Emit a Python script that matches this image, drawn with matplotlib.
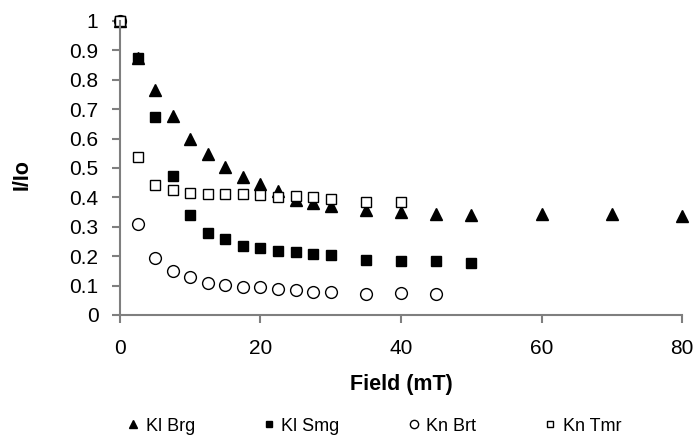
import matplotlib.pyplot as plt

plt.rcParams['font.family'] = ['Liberation Sans', 'DejaVu Sans']

# field strength (mT) and normalised intensity I/Io for each sample
brg_field = [0, 2.5, 5, 7.5, 10, 12.5, 15, 17.5, 20, 22.5, 25, 27.5, 30, 35, 40, 45, 50, 60, 70, 80]
brg_ratio = [1.0, 0.875, 0.765, 0.677, 0.600, 0.549, 0.502, 0.468, 0.444, 0.421, 0.392,
             0.380, 0.369, 0.357, 0.350, 0.343, 0.340, 0.342, 0.342, 0.337]

smg_field = [0, 2.5, 5, 7.5, 10, 12.5, 15, 17.5, 20, 22.5, 25, 27.5, 30, 35, 40, 45, 50]
smg_ratio = [1.0, 0.873, 0.673, 0.472, 0.341, 0.280, 0.258, 0.235, 0.227, 0.218, 0.213,
             0.209, 0.204, 0.186, 0.182, 0.182, 0.176]

brt_field = [0, 2.5, 5, 7.5, 10, 12.5, 15, 17.5, 20, 22.5, 25, 27.5, 30, 35, 40, 45]
brt_ratio = [1.0, 0.310, 0.195, 0.149, 0.129, 0.110, 0.102, 0.094, 0.094, 0.090, 0.085,
             0.078, 0.078, 0.071, 0.076, 0.071]

tmr_field = [0, 2.5, 5, 7.5, 10, 12.5, 15, 17.5, 20, 22.5, 25, 27.5, 30, 35, 40]
tmr_ratio = [1.0, 0.536, 0.441, 0.424, 0.415, 0.413, 0.413, 0.413, 0.407, 0.402, 0.404,
             0.401, 0.396, 0.383, 0.383]

x_ticks = [0, 20, 40, 60, 80]
y_ticks = [0, 0.1, 0.2, 0.3, 0.4, 0.5, 0.6, 0.7, 0.8, 0.9, 1]
y_labels = ['0', '0.1', '0.2', '0.3', '0.4', '0.5', '0.6', '0.7', '0.8', '0.9', '1']

fig = plt.figure(figsize=(6.98, 4.37), dpi=100)
ax = fig.add_axes([0.1719, 0.2792, 0.8052, 0.6728])

ax.plot(brg_field, brg_ratio, linestyle='none', marker='^', ms=9, color='black',
        clip_on=False, label='Kl Brg')
ax.plot(smg_field, smg_ratio, linestyle='none', marker='s', ms=6.5, color='black',
        clip_on=False, label='Kl Smg')
ax.plot(brt_field, brt_ratio, linestyle='none', marker='o', ms=8.5, mfc='white',
        mec='black', mew=1.0, clip_on=False, label='Kn Brt')
ax.plot(tmr_field, tmr_ratio, linestyle='none', marker='s', ms=6.5, mfc='white',
        mec='black', mew=1.0, clip_on=False, label='Kn Tmr')

ax.set_xlim(0, 80)
ax.set_ylim(0, 1)
ax.set_xticks(x_ticks)
ax.set_yticks(y_ticks)
ax.set_yticklabels(y_labels)

for side in ['top', 'right']:
    ax.spines[side].set_visible(False)
for side in ['left', 'bottom']:
    ax.spines[side].set_color('#7f7f7f')
    ax.spines[side].set_linewidth(1.5)
ax.tick_params(direction='out', length=5.5, width=1.5, color='#7f7f7f',
               labelsize=15, labelcolor='black')
ax.tick_params(axis='x', pad=12)
ax.tick_params(axis='y', pad=10)

ax.set_xlabel('Field (mT)', fontsize=15.5, fontweight='bold')
ax.set_ylabel('I/Io', fontsize=15.5, fontweight='bold')
ax.xaxis.set_label_coords(0.5, -0.2)
ax.yaxis.set_label_coords(-0.155, 0.476)

fig.legend(loc='center', bbox_to_anchor=(0.534, 0.025), ncol=4, frameon=False,
           fontsize=13, markerscale=0.7, handletextpad=0.2, columnspacing=3.6,
           handlelength=1.0)

fig.savefig('out.png', dpi=100)
